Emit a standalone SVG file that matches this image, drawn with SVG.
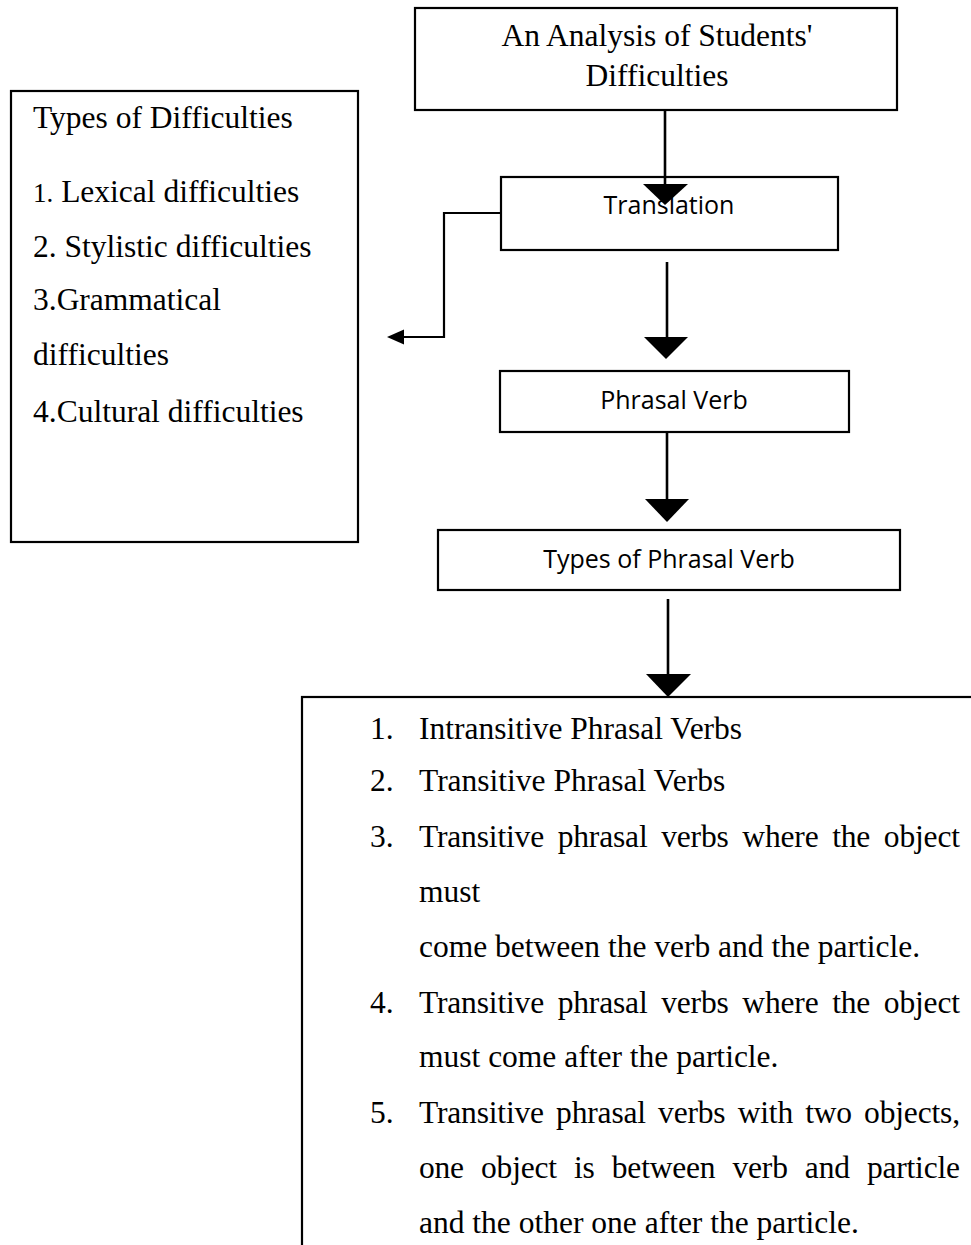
<svg xmlns="http://www.w3.org/2000/svg" width="971" height="1245" viewBox="0 0 971 1245">
<style>
.box{fill:#fff;stroke:#000;stroke-width:2.2}
.serif{font-family:"Liberation Serif","Times New Roman",serif;font-size:31.5px;fill:#000}
.sans{font-family:"Open Sans","Liberation Sans",sans-serif;font-size:25px;fill:#000;text-anchor:middle}
.ln{fill:none;stroke:#000;stroke-width:2.6}
.thin{fill:none;stroke:#000;stroke-width:2.2}
.head{fill:#000}
</style>
<rect width="971" height="1245" fill="#fff"/>

<g id="node-analysis">
<rect class="box" x="415" y="8" width="482" height="102"/>
<text class="serif" x="657" y="46" text-anchor="middle">An Analysis of Students'</text>
<text class="serif" x="657" y="86" text-anchor="middle">Difficulties</text>
</g>

<g id="node-types-difficulties">
<rect class="box" x="11" y="91" width="347" height="451"/>
<text class="serif" x="33" y="128">Types of Difficulties</text>
<text class="serif" x="33" y="202"><tspan font-size="27">1.</tspan> Lexical difficulties</text>
<text class="serif" x="33" y="257">2. Stylistic difficulties</text>
<text class="serif" x="33" y="310">3.Grammatical</text>
<text class="serif" x="33" y="365">difficulties</text>
<text class="serif" x="33" y="422">4.Cultural difficulties</text>
</g>

<g id="node-translation">
<rect class="box" x="501" y="177" width="337" height="73"/>
<text class="sans" x="669" y="214">Translation</text>
</g>

<g id="node-phrasal-verb">
<rect class="box" x="500" y="371" width="349" height="61"/>
<text class="sans" x="674" y="409">Phrasal Verb</text>
</g>

<g id="node-types-phrasal">
<rect class="box" x="438" y="530" width="462" height="60"/>
<text class="sans" x="669" y="568">Types of Phrasal Verb</text>
</g>

<g id="node-list">
<rect class="box" x="302" y="697" width="720" height="620"/>
<text class="serif" x="370" y="739">1.</text>
<text class="serif" x="419" y="739">Intransitive Phrasal Verbs</text>
<text class="serif" x="370" y="791">2.</text>
<text class="serif" x="419" y="791">Transitive Phrasal Verbs</text>
<text class="serif" x="370" y="847">3.</text>
<text class="serif" x="419" y="847" word-spacing="6" textLength="541" lengthAdjust="spacing">Transitive phrasal verbs where the object</text>
<text class="serif" x="419" y="902">must</text>
<text class="serif" x="419" y="957">come between the verb and the particle.</text>
<text class="serif" x="370" y="1013">4.</text>
<text class="serif" x="419" y="1013" word-spacing="6" textLength="541" lengthAdjust="spacing">Transitive phrasal verbs where the object</text>
<text class="serif" x="419" y="1067">must come after the particle.</text>
<text class="serif" x="370" y="1123">5.</text>
<text class="serif" x="419" y="1123" word-spacing="4.5" textLength="541" lengthAdjust="spacing">Transitive phrasal verbs with two objects,</text>
<text class="serif" x="419" y="1178" word-spacing="9.5" textLength="541" lengthAdjust="spacing">one object is between verb and particle</text>
<text class="serif" x="419" y="1233">and the other one after the particle.</text>
</g>

<g id="connectors">
<line class="ln" x1="665" y1="110" x2="665" y2="190"/>
<polygon class="head" points="643,184 688,184 665,205"/>
<line class="ln" x1="667" y1="262" x2="667" y2="340"/>
<polygon class="head" points="644,337 688,337 666,359"/>
<line class="ln" x1="667" y1="432" x2="667" y2="502"/>
<polygon class="head" points="645,499 689,499 667,522"/>
<line class="ln" x1="668" y1="599" x2="668" y2="677"/>
<polygon class="head" points="646,674 691,674 668,697"/>
<polyline class="thin" points="501,213 444,213 444,337 401,337"/>
<polygon class="head" points="387,337 404,329.5 404,344.5"/>
</g>
</svg>
